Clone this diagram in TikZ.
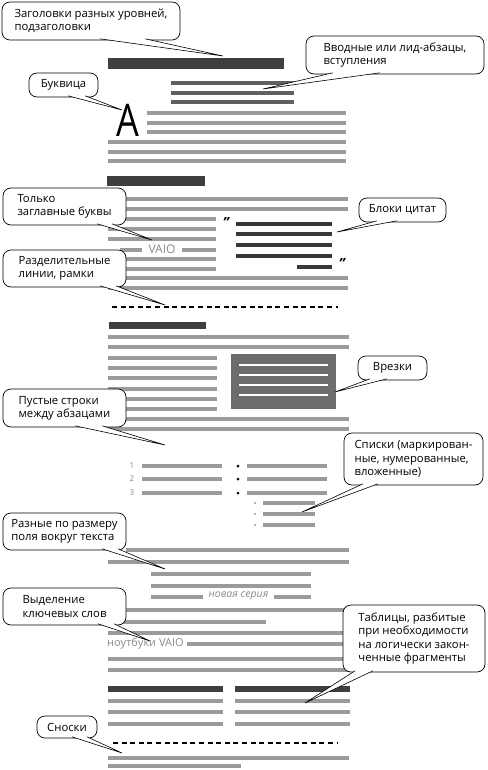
\documentclass[tikz,border=0pt]{standalone}
\usepackage{fontspec}
\setmainfont{Open Sans}
\usepackage{xcolor}
\usepackage{tikz}
\usetikzlibrary{calc}

\definecolor{headgray}{HTML}{3F3F3F}
\definecolor{leadgray}{HTML}{5F5F5F}
\definecolor{bodygray}{HTML}{9B9B9B}
\definecolor{boxgray}{HTML}{6D6D6D}
\definecolor{quotegray}{HTML}{383838}
\definecolor{textgray}{HTML}{8A8A8A}

\begin{document}
\begin{tikzpicture}[x=1pt, y=-1pt,
    bodyline/.style={draw=bodygray, line width=3.2pt},
    leadline/.style={draw=leadgray, line width=3.6pt},
    quoteline/.style={draw=quotegray, line width=3.6pt},
    headbar/.style={fill=headgray},
    dashrule/.style={draw=black, line width=1.6pt, dash pattern=on 5pt off 3.6pt},
    callout/.style={draw, fill=white, line width=0.7pt, rounded corners=8pt,
        anchor=north west, outer sep=0pt, inner xsep=6pt, inner ysep=2pt,
        align=left, font=\fontsize{11.3}{13.3}\selectfont},
    calltail/.style={draw, fill=white, line width=0.6pt, line join=miter},
    graytext/.style={text=textgray, inner sep=0pt}
]
    \useasboundingbox (0,0) rectangle (487,770);

    % headings and lead paragraph
    \fill[headbar] (108,58) rectangle (284,69);
    \foreach \y in {83,93,102}
    \draw[leadline] (171,\y) -- (294,\y);
    \node[anchor=base west, inner sep=0pt, font=\fontsize{45}{45}\selectfont] (dropA) at (116,137) {\scalebox{0.8}[1]{A}};
    \foreach \y in {113,123,132}
    \draw[bodyline] (147,\y) -- (346,\y);
    \foreach \y in {142,152,161}
    \draw[bodyline] (108,\y) -- (346,\y);

    % second section, quote block
    \fill[headbar] (107,176) rectangle (205,186);
    \foreach \y in {199,209,278,288}
    \draw[bodyline] (108,\y) -- (348,\y);
    \foreach \y in {219,229,239,259,269}
    \draw[bodyline] (108,\y) -- (216,\y);
    \draw[bodyline] (120,250) -- (142,250);
    \node[graytext, font=\fontsize{12}{12}\selectfont] (vaio) at (162,249) {VAIO};
    \draw[bodyline] (182,250) -- (216,250);
    \foreach \y in {224,234,245,256}
    \draw[quoteline] (236,\y) -- (332,\y);
    \draw[quoteline] (297,267) -- (332,267);
    \node[font=\bfseries\itshape\fontsize{14}{14}\selectfont, inner sep=0pt] (qopen) at (226,223) {\char"22};
    \node[font=\bfseries\itshape\fontsize{14}{14}\selectfont, inner sep=0pt] (qclose) at (342,264) {\char"22};
    \draw[dashrule] (112,307) -- (338,307);

    % third section with sidebar
    \fill[headbar] (109,322) rectangle (206,329);
    \foreach \y in {337,347,419,429}
    \draw[bodyline] (108,\y) -- (349,\y);
    \foreach \y in {358,368,378,389,399,409}
    \draw[bodyline] (108,\y) -- (217,\y);
    \fill[boxgray] (231,354) rectangle (336,409);
    \foreach \y in {365,375,385,395}
    \draw[white, line width=2.6pt] (239,\y) -- (328,\y);

    % lists
    \foreach \n/\y in {1/466,2/479,3/493} {
        \node[graytext, font=\fontsize{8}{8}\selectfont] (num\n) at (132,\y) {\n};
        \draw[bodyline] (142,\y) -- (222,\y);
        \fill[black] (238,\y) circle (1.5);
        \draw[bodyline] (247,\y) -- (327,\y);
    }
    \foreach \y in {503,514,525} {
        \fill[bodygray] (255,\y) circle (1.1);
        \draw[bodyline] (263,\y) -- (315,\y);
    }

    % margins, keywords
    \draw[bodyline] (126,550) -- (349,550);
    \draw[bodyline] (108,562) -- (349,562);
    \foreach \y in {574,586}
    \draw[bodyline] (151,\y) -- (311,\y);
    \draw[bodyline] (151,597) -- (203,597);
    \node[graytext, font=\itshape\fontsize{10.5}{10.5}\selectfont] (series) at (238.5,596) {новая серия};
    \draw[bodyline] (274,597) -- (311,597);
    \foreach \y in {610,633,659,670}
    \draw[bodyline] (108,\y) -- (349,\y);
    \draw[bodyline] (108,622) -- (266,622);
    \node[graytext, anchor=west, font=\fontsize{11}{11}\selectfont] (laptops) at (107,644) {ноутбуки VAIO};
    \draw[bodyline] (187,644) -- (347,644);

    % tables
    \fill[headbar] (108,686) rectangle (223,692);
    \fill[headbar] (235,686) rectangle (350,692);
    \foreach \y in {701,712,724} {
        \draw[bodyline] (108,\y) -- (223,\y);
        \draw[bodyline] (235,\y) -- (350,\y);
    }

    % footnotes
    \draw[dashrule] (113,743) -- (338,743);
    \draw[bodyline] (108,758) -- (349,758);
    \draw[bodyline] (108,766) -- (241,766);

    % callouts
    \node[callout, minimum width=178pt, minimum height=38pt] (heads) at (2,2) {Заголовки разных уровней,\\подзаголовки};
    \node[callout, minimum width=178pt, minimum height=38pt] (lead) at (306,36) {Вводные или лид-абзацы,\\вступления};
    \node[callout, minimum width=69pt, minimum height=24pt] (dropcap) at (29,73) {Буквица};
    \node[callout, minimum width=123pt, minimum height=37pt] (caps) at (3,188) {Только\\заглавные буквы};
    \node[callout, minimum width=87pt, minimum height=24pt] (quotes) at (359,198) {Блоки цитат};
    \node[callout, minimum width=123pt, minimum height=37pt] (rules) at (3,250) {Разделительные\\линии, рамки};
    \node[callout, minimum width=69pt, minimum height=24pt] (sidebar) at (358,356) {Врезки};
    \node[callout, minimum width=123pt, minimum height=38pt] (blank) at (3,389) {Пустые строки\\между абзацами};
    \node[callout, minimum width=139pt, minimum height=52pt] (lists) at (344,433) {Списки (маркирован-\\ные, нумерованные,\\вложенные)};
    \node[callout, minimum width=123pt, minimum height=37pt] (margins) at (3,513) {Разные по размеру\\поля вокруг текста};
    \node[callout, minimum width=123pt, minimum height=37pt] (keys) at (3,588) {Выделение\\ключевых слов};
    \node[callout, minimum width=142pt, minimum height=67pt] (tables) at (343,605) {Таблицы, разбитые\\при необходимости\\на логически закон-\\ченные фрагменты};
    \node[callout, minimum width=60pt, minimum height=22pt] (notes) at (37,716) {Сноски};

    % tips of the callouts
    \coordinate (headsTip) at (223,56);
    \coordinate (leadTip) at (263,89);
    \coordinate (dropcapTip) at (122,110);
    \coordinate (capsTip) at (152,240);
    \coordinate (quotesTip) at (337,232);
    \coordinate (rulesTip) at (165,305);
    \coordinate (sidebarTip) at (335,392);
    \coordinate (blankTip) at (165,445);
    \coordinate (listsTip) at (302,512);
    \coordinate (marginsTip) at (165,569);
    \coordinate (keysTip) at (150,641);
    \coordinate (tablesTip) at (305,703);
    \coordinate (notesTip) at (122,753);

    \foreach \c/\a/\b in {heads/98/143, lead/27/74, dropcap/39/56, caps/94/109,
        quotes/18/38, rules/97/113, sidebar/12/29, blank/72/99, lists/19/34,
        margins/99/115, keys/95/111, tables/12/30, notes/35/50}
    \filldraw[calltail] ($(\c.south west)+(\a,-1.2)$) -- (\c Tip) -- ($(\c.south west)+(\b,-1.2)$);

\end{tikzpicture}
\end{document}
